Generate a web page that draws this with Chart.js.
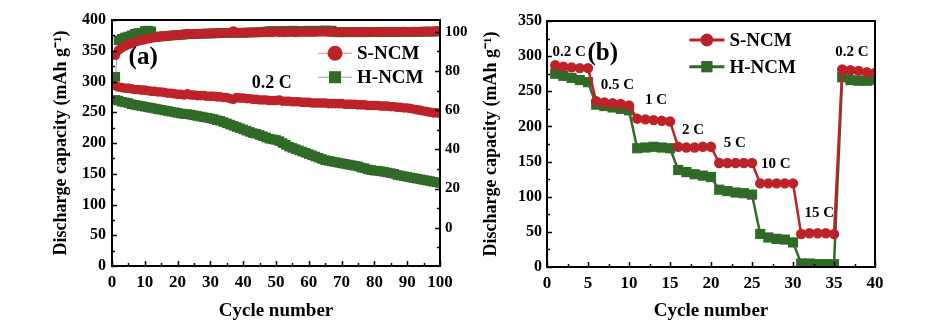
<!DOCTYPE html>
<html>
<head>
<meta charset="utf-8">
<script src="https://cdn.jsdelivr.net/npm/chart.js@4.4.0/dist/chart.umd.min.js"></script>
<style>
  body { margin: 0; background: #fff; }
  #wrap { position: relative; width: 941px; height: 327px; }
  canvas { position: absolute; top: 0; }
  #cycling { left: 0; }
  #rate { left: 470px; }
</style>
</head>
<body>
<div id="wrap">
  <canvas id="cycling" width="470" height="327"></canvas>
  <canvas id="rate" width="471" height="327"></canvas>
</div>
<script>
// ---- (a) long cycling at 0.2 C ----
const cycleNums = Array.from({ length: 100 }, (_, i) => i + 1);

const sCapacity = [
  293, 291, 290, 289, 289, 288, 287, 287, 286, 286,
  285, 284, 284, 283, 283, 282, 281, 281, 280, 279,
  279, 278, 280, 278, 278, 277, 277, 277, 276, 276,
  276, 275, 275, 274, 274, 272, 271, 274, 273, 273,
  272, 272, 271, 271, 270, 270, 270, 269, 269, 269,
  270, 268, 268, 268, 267, 267, 267, 266, 266, 266,
  265, 265, 265, 265, 265, 264, 264, 264, 264, 264,
  263, 263, 263, 263, 262, 262, 262, 261, 261, 261,
  261, 260, 260, 260, 259, 259, 258, 258, 257, 257,
  256, 255, 254, 253, 252, 251, 250, 249, 249, 248
];
const hCapacity = [
  270, 269, 267, 266, 265, 263, 262, 261, 260, 259,
  258, 257, 256, 255, 254, 253, 252, 251, 250, 249,
  248, 247, 247, 246, 245, 244, 243, 242, 241, 240,
  239, 237, 236, 234, 232, 230, 228, 226, 224, 222,
  220, 218, 216, 215, 213, 211, 209, 207, 206, 205,
  203, 200, 197, 194, 192, 190, 188, 186, 184, 182,
  180, 178, 176, 174, 172, 171, 170, 169, 168, 167,
  166, 165, 164, 163, 162, 160, 159, 157, 156, 155,
  155, 154, 153, 152, 151, 150, 148, 147, 146, 145,
  144, 143, 142, 141, 140, 139, 138, 137, 136, 135
];
const sEfficiency = [
  88.0, 90.6, 91.8, 92.7, 93.5, 94.1, 94.7, 95.2, 95.6, 96.0,
  96.4, 96.7, 97.0, 97.3, 97.5, 97.7, 97.9, 98.1, 98.2, 98.4,
  98.5, 98.6, 99.1, 98.7, 98.8, 98.9, 99.0, 99.1, 99.1, 99.2,
  99.2, 99.3, 99.3, 99.4, 99.4, 99.4, 100.4, 99.5, 99.5, 99.5,
  99.5, 99.6, 99.6, 99.6, 99.6, 99.6, 99.7, 99.7, 99.7, 100.0,
  99.7, 99.7, 99.7, 99.8, 99.8, 99.7, 99.8, 99.8, 99.8, 99.8,
  99.8, 99.8, 99.9, 99.9, 99.9, 99.8, 100.1, 99.9, 99.9, 99.9,
  99.9, 99.9, 99.9, 99.8, 99.9, 99.9, 99.9, 100.0, 99.9, 99.9,
  99.9, 100.0, 99.9, 100.0, 100.0, 99.9, 100.0, 100.0, 100.1, 100.0,
  100.0, 100.1, 100.0, 100.1, 100.1, 100.2, 100.1, 100.2, 100.3, 100.4
];
const hEfficiency = [
  77.0, 95.6, 96.4, 97.1, 97.6, 98.2, 99.0, 99.4, 99.2, 100.4,
  100.6, 100.2, 97.4, 97.5, 97.6, 97.8, 97.9, 98.1, 98.2, 98.3,
  98.4, 98.6, 98.8, 98.7, 98.8, 98.9, 99.0, 99.0, 99.1, 99.1,
  99.2, 99.2, 99.3, 99.3, 99.4, 99.4, 99.5, 99.5, 99.5, 99.5,
  99.6, 99.6, 99.7, 99.7, 99.8, 99.9, 100.1, 100.3, 100.4, 100.2,
  100.3, 100.5, 100.3, 100.4, 100.6, 100.4, 100.5, 100.3, 100.5, 100.6,
  100.4, 100.5, 100.6, 100.5, 100.7, 100.4, 100.6, 99.8, 99.7, 99.8,
  99.7, 99.8, 99.8, 99.7, 99.8, 99.8, 99.7, 99.8, 99.8, 99.8,
  99.8, 99.9, 99.8, 99.9, 99.9, 99.8, 99.9, 99.9, 99.9, 99.9,
  99.9, 100.0, 99.9, 100.0, 100.0, 100.1, 100.0, 100.1, 100.2, 100.2
];
const efficiencyTicks = [0, 20, 40, 60, 80, 100];

// ---- (b) rate capability ----
const rateCycles = Array.from({ length: 40 }, (_, i) => i + 1);
const rateS = [
  287, 285, 284, 283, 283,
  236, 234, 233, 232, 230,
  211, 210, 209, 208, 207,
  171, 170, 170, 171, 171,
  148, 148, 148, 148, 148,
  119, 119, 119, 119, 119,
  47, 48, 48, 48, 47,
  281, 280, 279, 277, 276
];
const rateH = [
  275, 272, 269, 266, 263,
  231, 229, 227, 225, 223,
  169, 170, 171, 170, 169,
  138, 135, 132, 130, 128,
  110, 108, 106, 105, 103,
  47, 42, 40, 39, 35,
  5, 5, 4, 4, 4,
  270, 266, 265, 265, 266
];
const rateSteps = ['0.2 C', '0.5 C', '1 C', '2 C', '5 C', '10 C', '15 C', '0.2 C'];
const seriesNames = ['S-NCM', 'H-NCM'];

const RED = '#be2229';
const GREEN = '#2f6a27';
const SERIF = '"Liberation Serif", "Times New Roman", serif';
const bold = size => ({ family: SERIF, size: size, weight: 'bold' });
const pts = (xs, ys) => xs.map((x, i) => ({ x: x, y: ys[i] }));

// frame, inward ticks, labels and legend drawn on top of the data
const decoPlugin = {
  id: 'deco',
  afterDatasetsDraw(chart, args, opts) {
    const { ctx, chartArea: a, scales } = chart;
    ctx.save();
    ctx.strokeStyle = '#000';
    ctx.lineWidth = 1.5;
    for (const t of opts.ticks) {
      const s = scales[t.axis];
      for (let v = t.from; v <= t.to + 1e-9; v += t.step) {
        const r = v / t.major;
        const len = Math.abs(r - Math.round(r)) < 1e-6 ? 5 : 3;
        const p = Math.round(s.getPixelForValue(v)) + 0.5;
        ctx.beginPath();
        if (t.axis === 'x') { ctx.moveTo(p, a.bottom); ctx.lineTo(p, a.bottom - len); }
        else if (t.right) { ctx.moveTo(a.right, p); ctx.lineTo(a.right - len, p); }
        else { ctx.moveTo(a.left, p); ctx.lineTo(a.left + len, p); }
        ctx.stroke();
      }
    }
    ctx.lineWidth = 2;
    ctx.strokeRect(a.left, a.top, a.right - a.left, a.bottom - a.top);

    ctx.fillStyle = '#000';
    ctx.textAlign = 'center';
    ctx.textBaseline = 'middle';
    for (const n of opts.notes) {
      ctx.font = 'bold ' + n.size + 'px ' + SERIF;
      ctx.fillText(n.text, scales.x.getPixelForValue(n.x), scales.y.getPixelForValue(n.y));
    }

    const lg = opts.legend;
    const cx = scales.x.getPixelForValue(lg.x);
    lg.rows.forEach((row, i) => {
      const ds = chart.data.datasets[row.dataset];
      const cy = scales.y.getPixelForValue(lg.y[i]);
      ctx.strokeStyle = ds.borderColor;
      ctx.lineWidth = lg.lineWidth;
      ctx.beginPath();
      ctx.moveTo(cx - lg.half, cy);
      ctx.lineTo(cx + lg.half, cy);
      ctx.stroke();
      ctx.fillStyle = ds.pointBackgroundColor;
      ctx.strokeStyle = ds.pointBackgroundColor;
      Chart.helpers.drawPoint(ctx, { pointStyle: ds.pointStyle, radius: row.radius, rotation: 0, borderWidth: 0 }, cx, cy);
      ctx.fillStyle = '#000';
      ctx.textAlign = 'left';
      ctx.font = 'bold ' + lg.size + 'px ' + SERIF;
      ctx.fillText(row.text, cx + lg.half + 5, cy + 1);
    });
    ctx.restore();
  }
};

const tickFont = bold(16);
const xTickFont = bold(17);
const noGrid = { display: false, drawTicks: false };

new Chart(document.getElementById('cycling'), {
  type: 'line',
  data: {
    datasets: [
      { label: 'S-NCM CE', data: pts(cycleNums, sEfficiency), yAxisID: 'y2', borderColor: '#d88a8a', borderWidth: 1,
        pointStyle: 'circle', pointRadius: 4.8, pointBorderWidth: 0, pointBackgroundColor: RED },
      { label: 'H-NCM CE', data: pts(cycleNums, hEfficiency), yAxisID: 'y2', borderColor: '#9a9a9a', borderWidth: 1,
        pointStyle: 'rect', pointRadius: 6.8, pointBorderWidth: 0, pointBackgroundColor: GREEN },
      { label: seriesNames[0], data: pts(cycleNums, sCapacity), yAxisID: 'y', borderColor: '#d88a8a', borderWidth: 1,
        pointStyle: 'circle', pointRadius: 4.8, pointBorderWidth: 0, pointBackgroundColor: RED },
      { label: seriesNames[1], data: pts(cycleNums, hCapacity), yAxisID: 'y', borderColor: '#9a9a9a', borderWidth: 1,
        pointStyle: 'rect', pointRadius: 6.8, pointBorderWidth: 0, pointBackgroundColor: GREEN }
    ]
  },
  options: {
    responsive: false,
    animation: false,
    layout: { padding: { left: 47, top: 20, right: 0, bottom: 0 } },
    scales: {
      x: {
        type: 'linear', min: 0, max: 100,
        afterFit: s => { s.height = 61; },
        grid: noGrid, border: { display: false },
        ticks: { stepSize: 10, padding: 6, font: xTickFont, color: '#000', maxRotation: 0, autoSkip: false },
        title: { display: true, text: 'Cycle number', font: bold(19), color: '#000', padding: { top: 0, bottom: 5 } }
      },
      y: {
        position: 'left', min: 0, max: 400,
        afterFit: s => { s.width = 65; },
        grid: noGrid, border: { display: false },
        ticks: { stepSize: 50, padding: 6, font: tickFont, color: '#000' },
        title: { display: true, text: 'Discharge capacity (mAh g⁻¹)', font: bold(18), color: '#000', padding: { top: 4, bottom: 0 } }
      },
      y2: {
        position: 'right', min: -19.5, max: 106,
        afterFit: s => { s.width = 30; },
        afterBuildTicks: s => { s.ticks = efficiencyTicks.map(v => ({ value: v })); },
        grid: noGrid, border: { display: false },
        ticks: { padding: 5, font: bold(15), color: '#000' }
      }
    },
    plugins: {
      legend: { display: false },
      tooltip: { enabled: false },
      deco: {
        ticks: [
          { axis: 'x', from: 0, to: 100, step: 5, major: 10 },
          { axis: 'y', from: 0, to: 400, step: 25, major: 50 },
          { axis: 'y2', from: -10, to: 100, step: 10, major: 20, right: true }
        ],
        notes: [
          { text: '(a)', x: 9.5, y: 339, size: 25 },
          { text: rateSteps[0], x: 48.7, y: 297, size: 18 }
        ],
        legend: {
          x: 68, y: [346, 307], half: 17, lineWidth: 1, size: 19,
          rows: [
            { dataset: 2, text: seriesNames[0], radius: 7.5 },
            { dataset: 3, text: seriesNames[1], radius: 8.5 }
          ]
        }
      }
    }
  },
  plugins: [decoPlugin]
});

new Chart(document.getElementById('rate'), {
  type: 'line',
  data: {
    datasets: [
      { label: seriesNames[0], data: pts(rateCycles, rateS), borderColor: RED, borderWidth: 2.5,
        pointStyle: 'circle', pointRadius: 5.2, pointBorderWidth: 0, pointBackgroundColor: RED },
      { label: seriesNames[1], data: pts(rateCycles, rateH), borderColor: GREEN, borderWidth: 2.5,
        pointStyle: 'rect', pointRadius: 7.2, pointBorderWidth: 0, pointBackgroundColor: GREEN }
    ]
  },
  options: {
    responsive: false,
    animation: false,
    layout: { padding: { left: 7, top: 21, right: 66, bottom: 0 } },
    scales: {
      x: {
        type: 'linear', min: 0, max: 40,
        afterFit: s => { s.height = 60; },
        grid: noGrid, border: { display: false },
        ticks: { stepSize: 5, padding: 6, font: xTickFont, color: '#000', maxRotation: 0, autoSkip: false },
        title: { display: true, text: 'Cycle number', font: bold(19), color: '#000', padding: { top: 0, bottom: 5 } }
      },
      y: {
        position: 'left', min: 0, max: 350,
        afterFit: s => { s.width = 70; },
        grid: noGrid, border: { display: false },
        ticks: { stepSize: 50, padding: 5, font: tickFont, color: '#000' },
        title: { display: true, text: 'Discharge capacity (mAh g⁻¹)', font: bold(18), color: '#000', padding: { top: 4, bottom: 0 } }
      }
    },
    plugins: {
      legend: { display: false },
      tooltip: { enabled: false },
      deco: {
        ticks: [
          { axis: 'x', from: 0, to: 40, step: 2.5, major: 5 },
          { axis: 'y', from: 0, to: 350, step: 25, major: 50 }
        ],
        notes: [
          { text: rateSteps[0], x: 2.7, y: 306, size: 15 },
          { text: '(b)', x: 6.8, y: 304, size: 25 },
          { text: rateSteps[1], x: 8.6, y: 259, size: 15 },
          { text: rateSteps[2], x: 13.3, y: 238, size: 15 },
          { text: rateSteps[3], x: 17.8, y: 195, size: 15 },
          { text: rateSteps[4], x: 22.9, y: 176, size: 15 },
          { text: rateSteps[5], x: 27.9, y: 146, size: 15 },
          { text: rateSteps[6], x: 33.2, y: 77, size: 15 },
          { text: rateSteps[7], x: 37.2, y: 306, size: 15 }
        ],
        legend: {
          x: 19.5, y: [323, 285], half: 17.5, lineWidth: 3, size: 19,
          rows: [
            { dataset: 0, text: seriesNames[0], radius: 6.5 },
            { dataset: 1, text: seriesNames[1], radius: 8 }
          ]
        }
      }
    }
  },
  plugins: [decoPlugin]
});
</script>
</body>
</html>
